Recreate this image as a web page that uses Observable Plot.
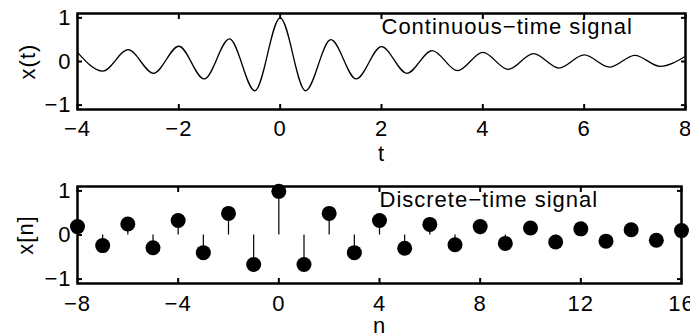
<!DOCTYPE html>
<html><head><meta charset="utf-8">
<script src="https://cdn.jsdelivr.net/npm/d3@7"></script>
<script src="https://cdn.jsdelivr.net/npm/@observablehq/plot@0.6"></script>
<style>
body{margin:0;background:#fff;}
#chart{position:relative;width:690px;height:335px;overflow:hidden;background:#fff;}
#chart svg{position:absolute;left:0;overflow:visible;}
</style></head><body><div id="chart"></div>
<script>
// Continuous-time signal: extrema
const contT = [-4, -3.5, -3, -2.5, -2, -1.5, -1, -0.5, 0, 0.5, 1, 1.5, 2, 2.5, 3, 3.5, 4, 4.5, 5, 5.5, 6, 6.5, 7, 7.5, 8];
const contX = [0.21, -0.22, 0.27, -0.27, 0.35, -0.40, 0.52, -0.67, 1.0, -0.67, 0.50, -0.40, 0.34, -0.27, 0.25, -0.21, 0.21, -0.18, 0.18, -0.15, 0.15, -0.13, 0.14, -0.11, 0.12];
// Discrete-time signal
const discN = [-8, -7, -6, -5, -4, -3, -2, -1, 0, 1, 2, 3, 4, 5, 6, 7, 8, 9, 10, 11, 12, 13, 14, 15, 16];
const discX = [0.19, -0.24, 0.25, -0.29, 0.33, -0.40, 0.49, -0.67, 0.99, -0.67, 0.49, -0.40, 0.33, -0.30, 0.24, -0.22, 0.19, -0.19, 0.16, -0.16, 0.14, -0.14, 0.12, -0.12, 0.10];
// Ticks and labels
const xTicksTop = [-4, -2, 0, 2, 4, 6, 8];
const xTicksBottom = [-8, -4, 0, 4, 8, 12, 16];
const yTicks = [-1, 0, 1];
const topTitle = "Continuous\u2212time signal";
const bottomTitle = "Discrete\u2212time signal";
const topXLabel = "t", topYLabel = "x(t)";
const bottomXLabel = "n", bottomYLabel = "x[n]";

const cont = contT.map((t, i) => ({t, v: contX[i]}));
const disc = discN.map((n, i) => ({n, v: discX[i]}));

const fmt = d => d < 0 ? "\u2212" + Math.abs(d) : String(d);
const style = {fontFamily: "'Liberation Sans', Arial, Helvetica, sans-serif", fontSize: "22px", letterSpacing: "1px", background: "white", color: "black"};

function axes(xt, yt, xPad) {
  return [
    Plot.axisX(xt, {anchor: "bottom", tickSize: -5, tickPadding: xPad, strokeWidth: 2, tickFormat: fmt, label: null}),
    Plot.axisX(xt, {anchor: "top", tickSize: -5, strokeWidth: 2, tickFormat: () => "", label: null}),
    Plot.axisY(yt, {anchor: "left", tickSize: -5, tickPadding: 11, strokeWidth: 2, tickFormat: fmt, label: null}),
    Plot.axisY(yt, {anchor: "right", tickSize: -5, strokeWidth: 2, tickFormat: () => "", label: null})
  ];
}

const topChart = Plot.plot({
  width: 690, height: 170,
  marginTop: 13, marginBottom: 61, marginLeft: 77, marginRight: 5,
  x: {domain: [-4, 8], axis: null},
  y: {domain: [-1.1, 1.1], axis: null},
  style,
  marks: [
    ...axes(xTicksTop, yTicks, 16),
    Plot.line(cont, {x: "t", y: "v", curve: "monotone-x", stroke: "black", strokeWidth: 1.3}),
    Plot.text([topTitle], {x: 2, y: 0.8, text: d => d, textAnchor: "start", lineAnchor: "middle", fill: "black"}),
    Plot.text([topYLabel], {frameAnchor: "left", dx: -50, rotate: -90, text: d => d, textAnchor: "middle", lineAnchor: "middle", fill: "black"}),
    Plot.text([topXLabel], {frameAnchor: "bottom", dy: 44, text: d => d, textAnchor: "middle", lineAnchor: "middle", fill: "black"}),
    Plot.frame({stroke: "black", strokeWidth: 2.5})
  ]
});
topChart.style.top = "0px";

const bottomChart = Plot.plot({
  width: 690, height: 165,
  marginTop: 16, marginBottom: 52, marginLeft: 77, marginRight: 9,
  x: {domain: [-8, 16], axis: null},
  y: {domain: [-1.1, 1.1], axis: null},
  style,
  marks: [
    ...axes(xTicksBottom, yTicks, 17),
    Plot.frame({stroke: "black", strokeWidth: 2.5}),
    Plot.ruleX(disc, {x: "n", y1: 0, y2: "v", stroke: "black", strokeWidth: 1.2}),
    Plot.dot(disc, {x: "n", y: "v", r: 7.5, fill: "black", stroke: "none"}),
    Plot.text([bottomTitle], {x: 4, y: 0.8, text: d => d, textAnchor: "start", lineAnchor: "middle", fill: "black"}),
    Plot.text([bottomYLabel], {frameAnchor: "left", dx: -52, rotate: -90, text: d => d, textAnchor: "middle", lineAnchor: "middle", fill: "black"}),
    Plot.text([bottomXLabel], {frameAnchor: "bottom", dy: 42, text: d => d, textAnchor: "middle", lineAnchor: "middle", fill: "black"})
  ]
});
bottomChart.style.top = "170px";

const chart = document.getElementById("chart");
chart.appendChild(topChart);
chart.appendChild(bottomChart);
</script>
</body></html>
